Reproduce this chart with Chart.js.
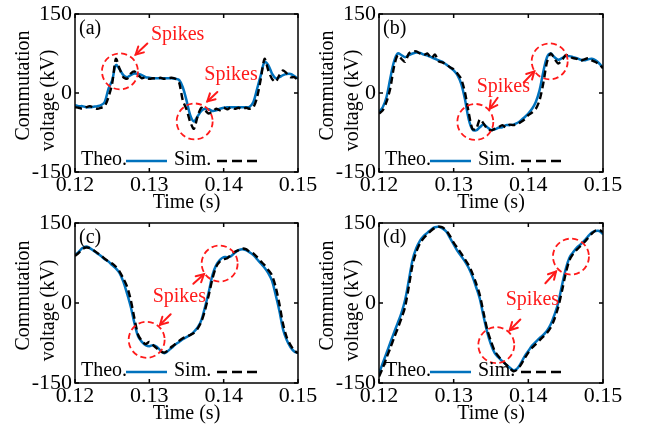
<!DOCTYPE html>
<html>
<head>
<meta charset="utf-8">
<script src="https://cdn.jsdelivr.net/npm/chart.js@4.4.1/dist/chart.umd.min.js"></script>
<style>
html,body{margin:0;padding:0;background:#fff;}
#wrap{position:relative;width:647px;height:425px;overflow:hidden;}
#wrap canvas{position:absolute;left:0;top:0;}
</style>
</head>
<body>
<div id="wrap">
<canvas id="pa" width="647" height="425" style="width:647px;height:425px"></canvas>
<canvas id="pb" width="647" height="425" style="width:647px;height:425px"></canvas>
<canvas id="pc" width="647" height="425" style="width:647px;height:425px"></canvas>
<canvas id="pd" width="647" height="425" style="width:647px;height:425px"></canvas>
</div>
<script>
// ---------- data ----------
const time = [0.12,0.1205,0.121,0.1215,0.122,0.1225,0.123,0.1235,0.124,0.1245,
  0.125,0.1255,0.126,0.1265,0.127,0.1275,0.128,0.1285,0.129,0.1295,
  0.13,0.1305,0.131,0.1315,0.132,0.1325,0.133,0.1335,0.134,0.1345,
  0.135,0.1355,0.136,0.1365,0.137,0.1375,0.138,0.1385,0.139,0.1395,
  0.14,0.1405,0.141,0.1415,0.142,0.1425,0.143,0.1435,0.144,0.1445,
  0.145,0.1455,0.146,0.1465,0.147,0.1475,0.148,0.1485,0.149,0.1495,0.15];

const theoA = [-23,-25,-25,-27,-27,-26,-25,-23,-17,8,
  24,53,45,34,30,34,37,36,34,30,
  29,28,28,28,28,28,28,27,25,11,
  -14,-42,-54,-44,-34,-30,-31,-34,-33,-30,
  -28,-27,-27,-27,-27,-27,-27,-26,-17,8,
  34,59,53,37,28,30,34,36,36,32,27];
const simA = [-27,-28,-30,-27,-25,-28,-30,-28,-25,-8,
  18,65,46,30,27,37,41,34,28,30,
  27,28,27,29,27,28,29,27,20,-14,
  -31,-55,-68,-44,-28,-33,-39,-35,-30,-33,
  -28,-31,-27,-30,-28,-31,-28,-30,-27,-8,
  27,65,43,27,21,34,43,37,30,30,24];

const theoB = [-36,-27,-8,27,59,75,72,68,72,75,
  77,76,73,71,68,65,62,59,54,49,
  43,34,18,-11,-49,-69,-71,-65,-60,-65,
  -70,-69,-66,-65,-61,-61,-60,-57,-52,-46,
  -39,-30,-17,5,40,68,75,68,63,66,
  70,70,68,66,63,62,64,65,62,56,48];
const simB = [-39,-33,-17,8,49,72,65,59,75,79,
  79,75,72,75,66,73,60,58,54,49,
  45,37,27,2,-36,-68,-69,-50,-58,-68,
  -71,-68,-65,-61,-65,-60,-61,-59,-55,-50,
  -42,-37,-30,-14,18,59,75,65,56,62,
  72,70,66,65,61,64,66,62,59,54,47];

const theoC = [90,96,103,106,103,98,93,88,82,78,
  71,65,56,40,18,-7,-38,-63,-73,-79,
  -81,-79,-82,-89,-94,-90,-84,-78,-73,-68,
  -64,-60,-54,-46,-32,-7,21,53,71,81,
  86,86,88,94,99,101,99,95,90,82,
  74,66,56,42,15,-15,-50,-70,-83,-91,-94];
const simC = [88,94,101,104,103,99,94,89,83,78,
  74,68,59,46,31,6,-29,-60,-71,-77,
  -73,-79,-85,-91,-93,-89,-82,-77,-71,-66,
  -63,-60,-56,-48,-35,-13,15,46,68,78,
  82,84,90,96,99,102,101,96,93,86,
  78,71,62,52,30,-2,-40,-65,-79,-89,-94];

const theoD = [-132,-113,-94,-75,-56,-38,-19,6,43,81,
  103,117,126,132,138,142,143,140,134,122,
  110,98,88,78,66,50,30,8,-25,-55,
  -78,-94,-102,-109,-115,-121,-126,-123,-113,-100,
  -90,-80,-73,-66,-60,-52,-40,-22,0,33,
  63,85,95,104,110,117,125,132,135,135,129];
const simD = [-138,-122,-103,-85,-66,-48,-29,-7,31,72,
  96,112,122,129,136,141,143,142,136,126,
  113,103,93,82,71,56,37,15,-18,-50,
  -72,-90,-100,-108,-115,-122,-128,-125,-116,-104,
  -93,-84,-77,-70,-63,-56,-46,-30,-8,22,
  55,80,92,100,107,114,122,130,136,137,133];

const xTickValues = [0.12, 0.13, 0.14, 0.15];
const yTickValues = [-150, 0, 150];
const panelLabels = ['(a)', '(b)', '(c)', '(d)'];
const seriesNames = ['Theo.', 'Sim.'];
const annotationText = 'Spikes';
const xTitle = 'Time (s)';
const yTitle = ['   Commutation', 'voltage (kV)   '];

// ---------- annotation placement (data coordinates) ----------
const notesA = {
  circles: [[0.12605, 41], [0.13610, -54]],
  texts: [[0.13381, 110], [0.14099, 34]],
  arrows: [[0.12973, 94, 0.12816, 73], [0.13915, 2, 0.13780, -16]]
};
const notesB = {
  circles: [[0.13290, -55], [0.14286, 60]],
  texts: [[0.13665, 11]],
  arrows: [[0.13589, -9, 0.13482, -30], [0.13938, 20, 0.14080, 41]]
};
const notesC = {
  circles: [[0.12964, -69], [0.13946, 74]],
  texts: [[0.13404, 11]],
  arrows: [[0.13287, -21, 0.13143, -41], [0.13592, 36, 0.13735, 54]]
};
const notesD = {
  circles: [[0.13571, -79], [0.14571, 87]],
  texts: [[0.14054, 7]],
  arrows: [[0.13893, -31, 0.13750, -51], [0.14228, 37, 0.14371, 59]]
};

// ---------- layout / style ----------
const W = 647, H = 425;
const Y_AXIS_W = 75, X_AXIS_H = 41;
const areas = [
  {l: 75, t: 14, r: 298, b: 172},
  {l: 379, t: 14, r: 603, b: 172},
  {l: 75, t: 223, r: 298, b: 383},
  {l: 379, t: 223, r: 603, b: 383}
];
const FONT = '"Liberation Serif", "Times New Roman", serif';
const BLUE = '#0072BD';
const RED = '#FF1A1A';

function drawArrow(ctx, x1, y1, x2, y2) {
  ctx.beginPath(); ctx.moveTo(x1, y1); ctx.lineTo(x2, y2); ctx.stroke();
  const ang = Math.atan2(y2 - y1, x2 - x1), hl = 8.5, sp = 0.5;
  ctx.beginPath();
  ctx.moveTo(x2 - hl * Math.cos(ang - sp), y2 - hl * Math.sin(ang - sp));
  ctx.lineTo(x2, y2);
  ctx.lineTo(x2 - hl * Math.cos(ang + sp), y2 - hl * Math.sin(ang + sp));
  ctx.stroke();
}

const decor = {
  id: 'decor',
  afterDatasetsDraw(chart, args, opts) {
    const ctx = chart.ctx, a = chart.chartArea, xs = chart.scales.x, ys = chart.scales.y;
    ctx.save();
    // annotations
    ctx.strokeStyle = RED; ctx.fillStyle = RED; ctx.lineWidth = 1.8;
    ctx.setLineDash([6, 3.5]);
    opts.notes.circles.forEach(c => {
      ctx.beginPath();
      ctx.arc(xs.getPixelForValue(c[0]), ys.getPixelForValue(c[1]), 18, 0, Math.PI * 2);
      ctx.stroke();
    });
    ctx.setLineDash([]);
    ctx.lineWidth = 2;
    ctx.lineCap = 'round';
    opts.notes.arrows.forEach(ar => {
      drawArrow(ctx, xs.getPixelForValue(ar[0]), ys.getPixelForValue(ar[1]),
                     xs.getPixelForValue(ar[2]), ys.getPixelForValue(ar[3]));
    });
    ctx.lineCap = 'butt';
    ctx.font = '20px ' + FONT;
    ctx.textAlign = 'center'; ctx.textBaseline = 'middle';
    opts.notes.texts.forEach(t => {
      ctx.fillText(annotationText, xs.getPixelForValue(t[0]), ys.getPixelForValue(t[1]));
    });
    // panel label
    ctx.fillStyle = '#000';
    ctx.textAlign = 'left';
    ctx.fillText(opts.label, a.left + 4, a.top + 15);
    // legend
    const ly = a.bottom - 12;
    ctx.fillText(seriesNames[0], a.left + 6, ly);
    ctx.fillText(seriesNames[1], a.left + 99, ly);
    ctx.strokeStyle = BLUE; ctx.lineWidth = 2.6;
    ctx.beginPath(); ctx.moveTo(a.left + 51, ly + 1); ctx.lineTo(a.left + 92, ly + 1); ctx.stroke();
    ctx.strokeStyle = '#000'; ctx.lineWidth = 2.6; ctx.setLineDash([10, 5]);
    ctx.beginPath(); ctx.moveTo(a.left + 142, ly + 1); ctx.lineTo(a.left + 182, ly + 1); ctx.stroke();
    ctx.setLineDash([]);
    // box and inward ticks
    ctx.strokeStyle = '#000'; ctx.lineWidth = 1.5;
    ctx.strokeRect(a.left, a.top, a.right - a.left, a.bottom - a.top);
    const tl = 4;
    ctx.beginPath();
    xTickValues.forEach(v => {
      const px = xs.getPixelForValue(v);
      ctx.moveTo(px, a.bottom); ctx.lineTo(px, a.bottom - tl);
      ctx.moveTo(px, a.top); ctx.lineTo(px, a.top + tl);
    });
    yTickValues.forEach(v => {
      const py = ys.getPixelForValue(v);
      ctx.moveTo(a.left, py); ctx.lineTo(a.left + tl, py);
      ctx.moveTo(a.right, py); ctx.lineTo(a.right - tl, py);
    });
    ctx.stroke();
    ctx.restore();
  }
};

function makePanel(id, idx, theo, sim, notes) {
  const ar = areas[idx];
  const pts = arr => time.map((t, i) => ({x: t, y: arr[i]}));
  return new Chart(document.getElementById(id), {
    type: 'line',
    data: {
      datasets: [
        {label: seriesNames[1], data: pts(sim), borderColor: '#000', borderWidth: 2.4,
         borderDash: [7, 4], pointRadius: 0, tension: 0.25, fill: false},
        {label: seriesNames[0], data: pts(theo), borderColor: BLUE, borderWidth: 2.5,
         pointRadius: 0, tension: 0.35, fill: false}
      ]
    },
    options: {
      responsive: false, animation: false, devicePixelRatio: 1,
      layout: {padding: {left: ar.l - Y_AXIS_W, top: ar.t, right: W - ar.r, bottom: H - ar.b - X_AXIS_H}},
      plugins: {legend: {display: false}, tooltip: {enabled: false}, decor: {label: panelLabels[idx], notes: notes}},
      scales: {
        x: {
          type: 'linear', min: 0.12, max: 0.15,
          grid: {display: false, drawTicks: false}, border: {display: false},
          afterBuildTicks: s => { s.ticks = xTickValues.map(v => ({value: v})); },
          afterFit: s => { s.height = X_AXIS_H; },
          ticks: {autoSkip: false, maxRotation: 0, padding: 2, color: '#000',
                  font: {family: FONT, size: 22, lineHeight: 1},
                  callback: v => Number(v).toFixed(2)},
          title: {display: true, text: xTitle, color: '#000', padding: {top: 0, bottom: 0},
                  font: {family: FONT, size: 20, lineHeight: 1}}
        },
        y: {
          type: 'linear', min: -150, max: 150,
          grid: {display: false, drawTicks: false}, border: {display: false},
          afterBuildTicks: s => { s.ticks = yTickValues.map(v => ({value: v})); },
          afterFit: s => { s.width = Y_AXIS_W; },
          ticks: {padding: 3, color: '#000', font: {family: FONT, size: 22, lineHeight: 1},
                  callback: v => String(v)},
          title: {display: true, text: yTitle, color: '#000', padding: {top: 11.5, bottom: 0},
                  font: {family: FONT, size: 20, lineHeight: 1.25}}
        }
      }
    },
    plugins: [decor]
  });
}

makePanel('pa', 0, theoA, simA, notesA);
makePanel('pb', 1, theoB, simB, notesB);
makePanel('pc', 2, theoC, simC, notesC);
makePanel('pd', 3, theoD, simD, notesD);
</script>
</body>
</html>
